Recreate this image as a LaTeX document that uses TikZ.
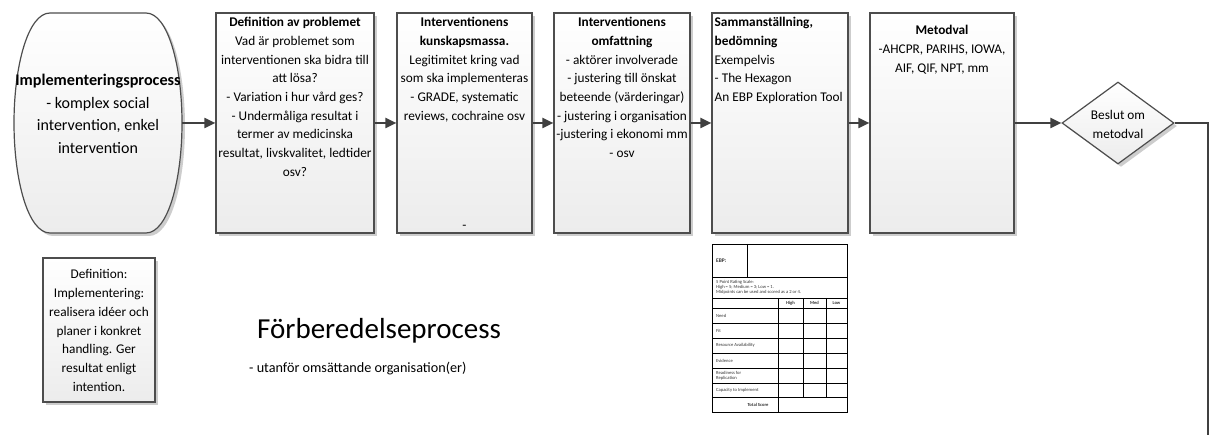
\documentclass[tikz,border=0pt]{standalone}
\usepackage{fontspec}
\setmainfont{Carlito}
\usetikzlibrary{arrows.meta,shapes.geometric,shadows}

\definecolor{edgegray}{HTML}{4D4D4D}
\definecolor{flowgray}{HTML}{404040}
\definecolor{boxbottom}{HTML}{ECECEC}
\definecolor{shadowgray}{HTML}{CDCDCD}

\tikzset{
  softfill/.style={top color=white, bottom color=boxbottom},
  boxshadow/.style={drop shadow={shadow xshift=3pt, shadow yshift=-3pt, fill=shadowgray, opacity=1}},
  stepbox/.style={draw=edgegray, line width=1.2pt, softfill, boxshadow, inner sep=0pt},
  flow/.style={draw=flowgray, line width=2pt, -{Triangle[length=11pt,width=10pt]}},
  plainflow/.style={draw=flowgray, line width=2pt},
  bodytext/.style={inner sep=0pt, font=\fontsize{13.3}{18.7}\selectfont},
  tablefont/.style={inner sep=0pt, text=black!80, font=\fontsize{4.6}{4.8}\selectfont},
  gridline/.style={draw=black, line width=0.9pt}
}

\begin{document}
\begin{tikzpicture}[x=1pt,y=-1pt]
\useasboundingbox (0,0) rectangle (1210,435);

% ---- start shape: implementation process
\node[inner sep=0pt, minimum width=168pt, minimum height=220pt] (ip) at (98,123) {};
\path[draw=edgegray, line width=1.2pt, softfill, boxshadow]
  (50,13) -- (146,13) .. controls (168,13) and (182,66) .. (182,123)
  .. controls (182,180) and (168,233) .. (146,233) -- (50,233)
  .. controls (28,233) and (14,180) .. (14,123)
  .. controls (14,66) and (28,13) .. (50,13) -- cycle;
\node[inner sep=0pt, anchor=north, align=center, font=\fontsize{16}{22.6}\selectfont] (iptext) at (98,69.5)
  {\strut{\fontsize{16.2}{22.6}\selectfont\bfseries Implementeringsprocess}\\- komplex social\\intervention, enkel\\intervention};

% ---- process steps
\node[stepbox, minimum width=158pt, minimum height=220pt] (b1) at (295,123) {};
\node[stepbox, minimum width=135pt, minimum height=220pt] (b2) at (464.5,123) {};
\node[stepbox, minimum width=136pt, minimum height=220pt] (b3) at (622,123) {};
\node[stepbox, minimum width=136pt, minimum height=220pt] (b4) at (780,123) {};
\node[stepbox, minimum width=144pt, minimum height=220pt] (b5) at (942,123) {};

\node[bodytext, anchor=north, align=center] (t1) at (295,13.4)
  {\strut\textbf{Definition av problemet}\\Vad är problemet som\\interventionen ska bidra till\\att lösa?\\- Variation i hur vård ges?\\- Undermåliga resultat i\\termer av medicinska\\resultat, livskvalitet, ledtider\\osv?};
\node[bodytext, anchor=north, align=center] (t2) at (464.5,13.4)
  {\strut\textbf{Interventionens}\\\textbf{kunskapsmassa.}\\Legitimitet kring vad\\som ska implementeras\\- GRADE, systematic\\reviews, cochraine osv};
\node[bodytext, anchor=base] (t2dash) at (464.5,230) {-};
\node[bodytext, anchor=north, align=center] (t3) at (622,13.4)
  {\strut\textbf{Interventionens}\\\textbf{omfattning}\\- aktörer involverade\\- justering till önskat\\beteende (värderingar)\\- justering i organisation\\-justering i ekonomi mm\\- osv};
\node[bodytext, anchor=north west, align=left] (t4) at (714.5,13.4)
  {\strut\textbf{Sammanställning,}\\\textbf{bedömning}\\Exempelvis\\- The Hexagon\\An EBP Exploration Tool};
\node[bodytext, anchor=north, align=center] (t5) at (942,21.5)
  {\strut\textbf{Metodval}\\-AHCPR, PARIHS, IOWA,\\AIF, QIF, NPT, mm};

% ---- decision
\node[draw=edgegray, line width=1.2pt, softfill, boxshadow, diamond, inner sep=0pt,
      minimum width=112pt, minimum height=82pt] (dia) at (1118,123) {};
\node[bodytext, align=center] (diatext) at (1118,125) {\strut Beslut om\\\strut metodval};

% ---- connectors
\draw[flow] (ip.east) -- (b1.west);
\draw[flow] (b1.east) -- (b2.west);
\draw[flow] (b2.east) -- (b3.west);
\draw[flow] (b3.east) -- (b4.west);
\draw[flow] (b4.east) -- (b5.west);
\draw[flow] (b5.east) -- (dia.west);
\coordinate (tail) at (1208,437);
\draw[plainflow] (dia.east) -| (tail);

% ---- definition note
\node[stepbox, minimum width=112pt, minimum height=144pt] (defbox) at (99,330) {};
\node[bodytext, anchor=north, align=center] (deftext) at (99,265.7)
  {\strut Definition:\\Implementering:\\realisera idéer och\\planer i konkret\\handling. Ger\\resultat enligt\\intention.};

% ---- phase title
\node[inner sep=0pt, anchor=base west, font=\fontsize{29}{34}\selectfont] (phase) at (257,339) {Förberedelseprocess};
\node[inner sep=0pt, anchor=base west, font=\fontsize{14.2}{18}\selectfont] (phasesub) at (249,373) {- utanför omsättande organisation(er)};

% ---- rating sheet
\draw[gridline] (712,244) rectangle (847,412);
\foreach \yy in {277,298,308,323,338,353,368,383,397}
  \draw[gridline] (712,\yy) -- (847,\yy);
\draw[gridline] (747,244) -- (747,277);
\draw[gridline] (778,298) -- (778,412);
\draw[gridline] (803,298) -- (803,397);
\draw[gridline] (826,298) -- (826,397);

\node[tablefont, anchor=west, font=\fontsize{5.5}{6}\selectfont\bfseries] (ebp) at (716,261) {EBP:};
\node[tablefont, anchor=west] (scale1) at (716,282.7) {5 Point Rating Scale:};
\node[tablefont, anchor=west] (scale2) at (716,287.3) {High = 5; Medium = 3; Low = 1.};
\node[tablefont, anchor=west] (scale3) at (716,292) {Midpoints can be used and scored as a 2 or 4.};
\node[tablefont, font=\fontsize{4.6}{4.8}\selectfont\bfseries] (hhigh) at (790.5,303) {High};
\node[tablefont, font=\fontsize{4.6}{4.8}\selectfont\bfseries] (hmed) at (814.5,303) {Med};
\node[tablefont, font=\fontsize{4.6}{4.8}\selectfont\bfseries] (hlow) at (836.5,303) {Low};
\node[tablefont, anchor=west] (rneed) at (716,315.5) {Need};
\node[tablefont, anchor=west] (rfit) at (716,330.5) {Fit};
\node[tablefont, anchor=west] (rres) at (716,345.5) {Resource Availability};
\node[tablefont, anchor=west] (revi) at (716,360.5) {Evidence};
\node[tablefont, anchor=west, align=left] (rready) at (716,375.5) {Readiness for\\Replication};
\node[tablefont, anchor=west] (rcap) at (716,390) {Capacity to Implement};
\node[tablefont, font=\fontsize{4.6}{4.8}\selectfont\bfseries] (rtotal) at (758,404.5) {Total Score};
\end{tikzpicture}
\end{document}
